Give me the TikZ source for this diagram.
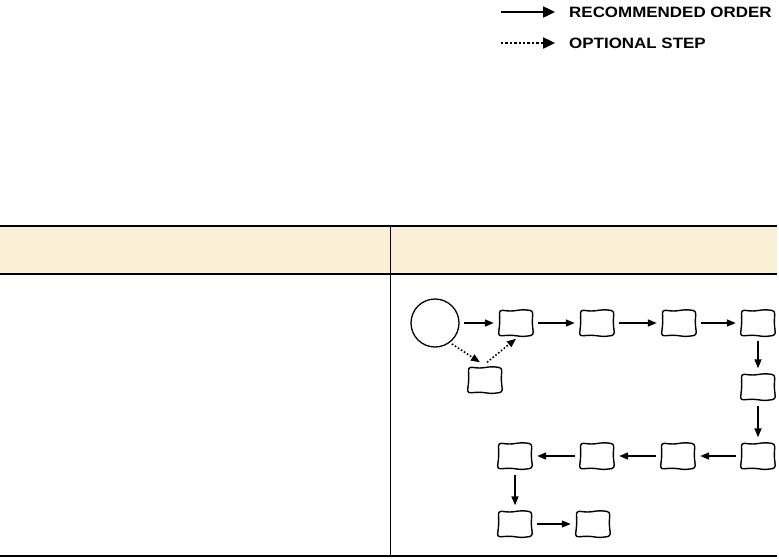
\documentclass[tikz,border=0pt]{standalone}
\usepackage{fontspec}
\setmainfont{Liberation Sans}
\usetikzlibrary{arrows.meta,calc}
\definecolor{headfill}{RGB}{249,239,213}
\tikzset{
  box/.style={minimum width=34pt, minimum height=25pt, inner sep=0pt},
  boxline/.style={line width=1.4pt, rounded corners=3pt, line join=round},
  startnode/.style={draw, circle, line width=1.3pt, minimum size=48pt, inner sep=0pt},
  tip/.style={-{Triangle[length=9pt,width=7pt]}},
  bigtip/.style={-{Triangle[length=12pt,width=11pt]}},
  flow/.style={line width=1.6pt, tip},
  thinflow/.style={line width=1.1pt, tip},
  opt/.style={line width=1.6pt, dash pattern=on 1.6pt off 2pt, tip},
  lflow/.style={line width=2.4pt, bigtip},
  lopt/.style={line width=2.4pt, dash pattern=on 2.4pt off 2pt, bigtip},
  legendtext/.style={anchor=west, inner sep=0pt, font=\bfseries\fontsize{15pt}{17pt}\selectfont},
  rule/.style={line width=1.2pt},
}
\newcommand\wobblybox[1]{%
  \draw[boxline]
    ($(#1.north west)+(0.6pt,0.3pt)$) --
    ($($(#1.north west)!0.35!(#1.north east)$)+(0,-0.9pt)$) --
    ($($(#1.north west)!0.7!(#1.north east)$)+(0,0.7pt)$) --
    ($(#1.north east)+(-0.3pt,-0.4pt)$) --
    ($($(#1.north east)!0.5!(#1.south east)$)+(-1pt,0)$) --
    ($(#1.south east)+(0.4pt,0.5pt)$) --
    ($($(#1.south east)!0.3!(#1.south west)$)+(0,-0.9pt)$) --
    ($($(#1.south east)!0.65!(#1.south west)$)+(0,0.6pt)$) --
    ($(#1.south west)+(-0.5pt,-0.3pt)$) --
    ($($(#1.south west)!0.5!(#1.north west)$)+(1pt,0)$) -- cycle;}
\begin{document}
\begin{tikzpicture}[x=1pt,y=-1pt]
\useasboundingbox (0,0) rectangle (779,558);
% legend
\coordinate (l1a) at (501,12); \coordinate (l1b) at (555,12);
\coordinate (l2a) at (501,43); \coordinate (l2b) at (555,43);
\draw[lflow] (l1a) -- (l1b);
\draw[lopt] (l2a) -- (l2b);
\node[legendtext] (t1) at (569,12) {\scalebox{1.13}[1]{RECOMMENDED ORDER}};
\node[legendtext] (t2) at (569,43) {\scalebox{1.13}[1]{OPTIONAL STEP}};
% table
\fill[headfill] (0,227) rectangle (777,273);
\draw[rule] (0,226) -- (777,226);
\draw[rule] (0,274) -- (777,274);
\draw[rule] (0,556) -- (777,556);
\draw[line width=0.8pt] (390,226) -- (390,556);
% flow
\node[startnode] (s) at (435,323) {};
\node[box] (a1) at (516,323) {};
\node[box] (a2) at (597,323) {};
\node[box] (a3) at (679,323) {};
\node[box] (a4) at (758,323) {};
\node[box] (o) at (485,380) {};
\node[box] (b1) at (758,387) {};
\node[box] (c4) at (758,456) {};
\node[box] (c3) at (678,456) {};
\node[box] (c2) at (597,456) {};
\node[box] (c1) at (515,456) {};
\node[box] (d1) at (515,524) {};
\node[box] (d2) at (593,524) {};
\foreach \b in {a1,a2,a3,a4,o,b1,c4,c3,c2,c1,d1,d2} {\wobblybox{\b}}
\draw[flow] ([xshift=4pt]s.east) -- ([xshift=-5pt]a1.west);
\draw[flow] ([xshift=5pt]a1.east) -- ([xshift=-5pt]a2.west);
\draw[flow] ([xshift=5pt]a2.east) -- ([xshift=-5pt]a3.west);
\draw[flow] ([xshift=5pt]a3.east) -- ([xshift=-5pt]a4.west);
\draw[opt] ([shift={(1pt,-2pt)}]s.-50) -- ([shift={(-5pt,5pt)}]o.north);
\draw[opt] ([shift={(2pt,5pt)}]o.north) -- ([shift={(0pt,-3pt)}]a1.south);
\draw[flow] ([yshift=-5pt]a4.south) -- ([yshift=6pt]b1.north);
\draw[flow] ([yshift=-6pt]b1.south) -- ([yshift=6pt]c4.north);
\draw[flow] ([xshift=-5pt]c4.west) -- ([xshift=5pt]c3.east);
\draw[flow] ([xshift=-5pt]c3.west) -- ([xshift=5pt]c2.east);
\draw[flow] ([xshift=-5pt]c2.west) -- ([xshift=5pt]c1.east);
\draw[flow] ([yshift=-6pt]c1.south) -- ([yshift=6pt]d1.north);
\draw[thinflow] ([xshift=5pt]d1.east) -- ([xshift=-5pt]d2.west);
\end{tikzpicture}
\end{document}
